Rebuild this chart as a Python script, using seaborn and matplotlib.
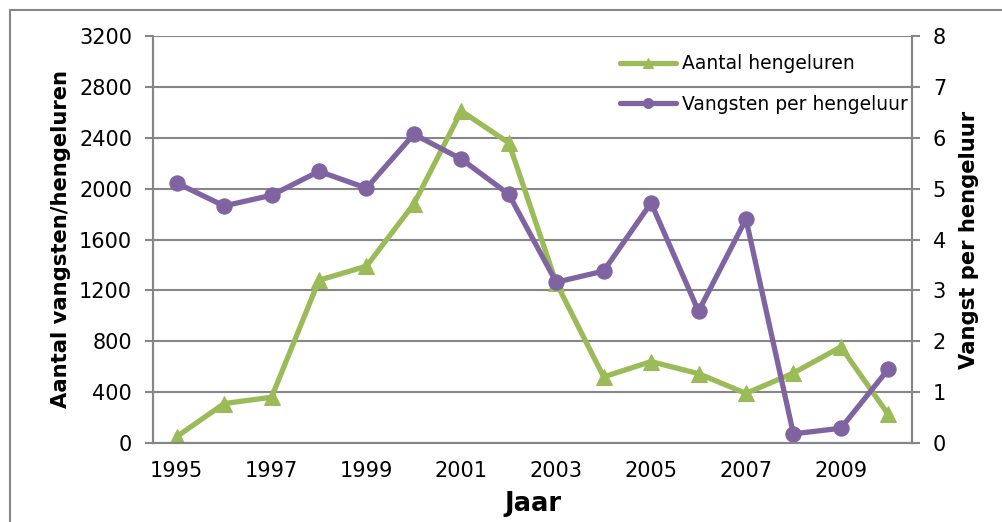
import matplotlib
matplotlib.use("Agg")
import matplotlib.pyplot as plt
from matplotlib.lines import Line2D
from matplotlib.ticker import FixedLocator, NullFormatter
import seaborn as sns
import pandas as pd

# data
years = list(range(1995, 2011))
hengeluren = [50, 310, 360, 1280, 1390, 1880, 2610, 2360, 1260, 520, 640, 545, 390, 550, 755, 225]
vangst_per_uur = [5.11, 4.66, 4.87, 5.34, 5.01, 6.07, 5.58, 4.89, 3.16, 3.38, 4.72, 2.59, 4.40, 0.18, 0.29, 1.45]
year_labels = [1995, 1997, 1999, 2001, 2003, 2005, 2007, 2009]

GREEN = "#9BBB59"
PURPLE = "#8064A2"
GRID = "#868686"

df = pd.DataFrame({"jaar": years, "uren": hengeluren, "vangst": vangst_per_uur})

sns.set_style("white")
plt.rcParams["font.family"] = ["DejaVu Sans"]
plt.rcParams["text.color"] = "black"
plt.rcParams["xtick.labelcolor"] = "black"
plt.rcParams["ytick.labelcolor"] = "black"
plt.rcParams["axes.labelcolor"] = "black"

fig = plt.figure(figsize=(10.03, 5.22), dpi=100)
ax = fig.add_axes([153 / 1003, 1 - 443 / 522, (912 - 153) / 1003, (443 - 36) / 522])
ax2 = ax.twinx()

sns.lineplot(data=df, x="jaar", y="uren", ax=ax, color=GREEN, lw=3.8,
             marker="^", markersize=11, markeredgecolor=GREEN, label="Aantal hengeluren",
             legend=False)
sns.lineplot(data=df, x="jaar", y="vangst", ax=ax2, color=PURPLE, lw=3.8,
             marker="o", markersize=11, markeredgecolor=PURPLE, label="Vangsten per hengeluur",
             legend=False)

ax.set_xlim(1994.5, 2010.5)
ax.set_ylim(0, 3200)
ax2.set_ylim(0, 8)
ax.set_yticks(range(0, 3201, 400))
ax2.set_yticks(range(0, 9))

# tick marks between years, labels every other year
ax.xaxis.set_major_locator(FixedLocator([y + 0.5 for y in range(1994, 2011)]))
ax.xaxis.set_major_formatter(NullFormatter())
ax.xaxis.set_minor_locator(FixedLocator(year_labels))
ax.set_xticklabels([str(y) for y in year_labels], minor=True)
ax.tick_params(axis="x", which="major", length=5, width=1.5, color=GRID, direction="out")
ax.tick_params(axis="x", which="minor", length=0, pad=13, labelsize=15)

ax.tick_params(axis="y", length=6, width=1.5, color=GRID, pad=9, labelsize=15)
ax2.tick_params(axis="y", length=6, width=1.5, color=GRID, pad=9, labelsize=15)

ax.yaxis.grid(True, color=GRID, lw=1.5)
ax.set_axisbelow(True)

for a in (ax, ax2):
    a.spines["top"].set_visible(False)
    for s in ("left", "right", "bottom"):
        a.spines[s].set_color(GRID)
        a.spines[s].set_linewidth(1.5)

ax.set_xlabel("Jaar", fontsize=18.5, fontweight="bold", labelpad=7)
ax.set_ylabel("Aantal vangsten/hengeluren", fontsize=15.2, fontweight="bold", labelpad=6)
ax2.set_ylabel("Vangst per hengeluur", fontsize=15.2, fontweight="bold", labelpad=9)

handles = [ax.get_lines()[0], ax2.get_lines()[0]]
ax2.legend(handles, [h.get_label() for h in handles], loc="upper left",
           bbox_to_anchor=(0.615, 0.955), frameon=False, fontsize=13.5,
           handlelength=3.0, handletextpad=0.3, labelspacing=1.15, markerscale=0.65,
           borderpad=0, borderaxespad=0)

# outer chart border (clipped by image edge)
x0, y0 = 10 / 1003, 1 - 10 / 522
fig.add_artist(Line2D([x0, 1.0], [y0, y0], transform=fig.transFigure, color=GRID, lw=1.5))
fig.add_artist(Line2D([x0, x0], [0.0, y0], transform=fig.transFigure, color=GRID, lw=1.5))

fig.savefig("out.png", dpi=100)
